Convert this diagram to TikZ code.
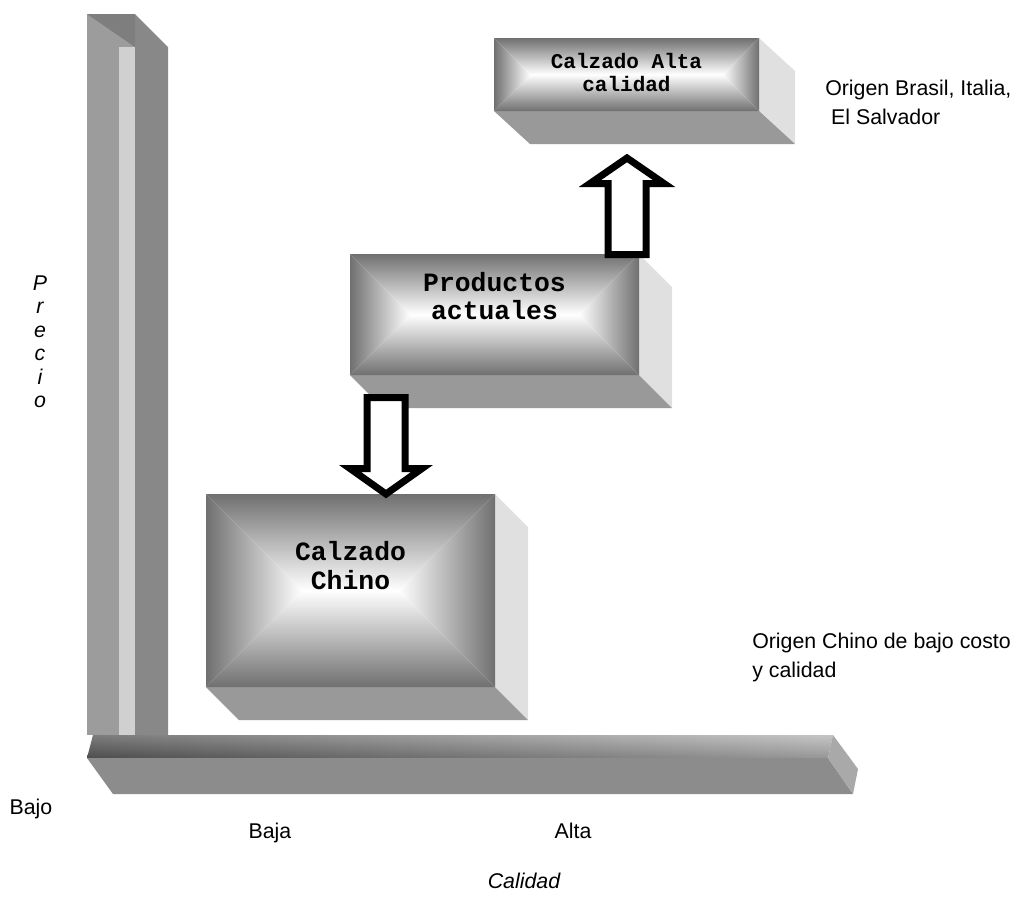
\documentclass[tikz,border=0pt]{standalone}
\usepackage{fontspec}
\setmainfont{Liberation Sans}
\newfontfamily\monob{Liberation Mono}[BoldFont={Liberation Mono Bold}]
\usetikzlibrary{calc}
\definecolor{edgegray}{HTML}{707070}
\definecolor{midgray}{HTML}{C4C4C4}
\definecolor{bottomface}{HTML}{999999}
\definecolor{sideface}{HTML}{E0E0E0}
\definecolor{vfront}{HTML}{9C9C9C}
\definecolor{vstrip}{HTML}{D0D0D0}
\definecolor{vtop}{HTML}{7E7E7E}
\definecolor{vside}{HTML}{888888}
\definecolor{hfront}{HTML}{8C8C8C}
\definecolor{hside}{HTML}{A9A9A9}
\newcommand{\pillowface}[4]{%
  \pgfmathsetmacro\pilH{(#4-#2)/2}%
  \pgfmathsetmacro\pilM{(#2+#4)/2}%
  \pgfmathsetmacro\pilA{#1+\pilH}%
  \pgfmathsetmacro\pilB{#3-\pilH}%
  \fill[white] (#1,#2) rectangle (#3,#4);
  \shade[top color=edgegray,middle color=midgray,bottom color=white] (#1,#2)--(#3,#2)--(\pilB,\pilM)--(\pilA,\pilM)--cycle;
  \shade[bottom color=edgegray,middle color=midgray,top color=white] (#1,#4)--(#3,#4)--(\pilB,\pilM)--(\pilA,\pilM)--cycle;
  \shade[left color=edgegray,middle color=midgray,right color=white] (#1,#2)--(\pilA,\pilM)--(#1,#4)--cycle;
  \shade[right color=edgegray,middle color=midgray,left color=white] (#3,#2)--(\pilB,\pilM)--(#3,#4)--cycle;
}
\tikzset{
  lbl/.style={font=\fontsize{16}{21.75}\selectfont, inner sep=0pt},
  ilbl/.style={font=\fontsize{16}{21.75}\selectfont\itshape, inner sep=0pt},
  boxsmall/.style={font=\monob\bfseries\fontsize{15.75}{17.25}\selectfont, align=center, inner sep=0pt},
  boxbig/.style={font=\monob\bfseries\fontsize{19.8}{21.5}\selectfont, align=center, inner sep=0pt},
  blockarrow/.style={draw=black, fill=white, line width=5.25pt, line join=miter},
}
\begin{document}
\begin{tikzpicture}[x=0.75pt,y=-0.75pt]
\useasboundingbox (0,0) rectangle (1022,915);
% vertical axis bar
\fill[vfront] (87,14) rectangle (135,735);
\fill[vstrip] (119,47) rectangle (135,735);
\fill[vtop] (87,14)--(135,14)--(135,47)--cycle;
\fill[vside] (135,14)--(168,47)--(168,735)--(135,735)--cycle;
% horizontal axis bar
\shade[left color=gray!75!black, right color=gray!55] (93,735)--(833,735)--(828,758)--(87,758)--cycle;
\shade[top color=white, bottom color=black, opacity=0.18] (93,735)--(833,735)--(828,758)--(87,758)--cycle;
\fill[hfront] (87,758)--(828,758)--(853,794)--(113,794)--cycle;
\fill[hside] (828,758)--(833,735)--(858,769)--(853,794)--cycle;
% box 3 : Calzado Chino
\fill[sideface] (495,494)--(528,527)--(528,720)--(495,687)--cycle;
\fill[bottomface] (206,687)--(495,687)--(528,720)--(239,720)--cycle;
\pillowface{206}{494}{495}{687}
\node[boxbig] (b3) at (350.5,565.5) {Calzado\\Chino};
% box 2 : Productos actuales
\fill[sideface] (639,254)--(672,287)--(672,408)--(639,375)--cycle;
\fill[bottomface] (350,375)--(639,375)--(672,408)--(383,408)--cycle;
\pillowface{350}{254}{639}{375}
\node[boxbig] (b2) at (494.5,296) {Productos\\actuales};
% box 1 : Calzado Alta calidad
\fill[sideface] (759,38)--(795,71)--(795,144)--(759,111)--cycle;
\fill[bottomface] (494,111)--(759,111)--(795,144)--(530,144)--cycle;
\pillowface{494}{38}{759}{111}
\node[boxsmall] (b1) at (626.5,72.5) {Calzado Alta\\calidad};
% block arrows
\coordinate (upTail) at (627,254.5);
\coordinate (dnTail) at (386,397.5);
\draw[blockarrow, shift={(upTail)}] (-19,0)--(-19,-71)--(-37,-71)--(0,-96.5)--(37,-71)--(19,-71)--(19,0)--cycle;
\draw[blockarrow, shift={(dnTail)}] (-19,0)--(-19,71)--(-36,71)--(0,96.5)--(36,71)--(19,71)--(19,0)--cycle;
% labels
\node[lbl, anchor=base west] (o1) at (825,95) {Origen Brasil, Italia,};
\node[lbl, anchor=base west] (o2) at (825,124) {\ El Salvador};
\node[lbl, anchor=base west] (o3) at (752,648) {Origen Chino de bajo costo};
\node[lbl, anchor=base west] (o4) at (752,677) {y calidad};
\node[lbl, anchor=base] (bajo) at (31,814) {Bajo};
\node[lbl, anchor=base] (baja) at (270,838) {Baja};
\node[lbl, anchor=base] (alta) at (573,838) {Alta};
\node[ilbl, anchor=base] (calidad) at (524,888) {Calidad};
\foreach \ch/\yy [count=\i] in {P/290,r/313.5,e/337,c/360.5,i/384,o/407.5}
  \node[ilbl, anchor=base] (prec\i) at (40,\yy) {\ch};
\end{tikzpicture}
\end{document}
